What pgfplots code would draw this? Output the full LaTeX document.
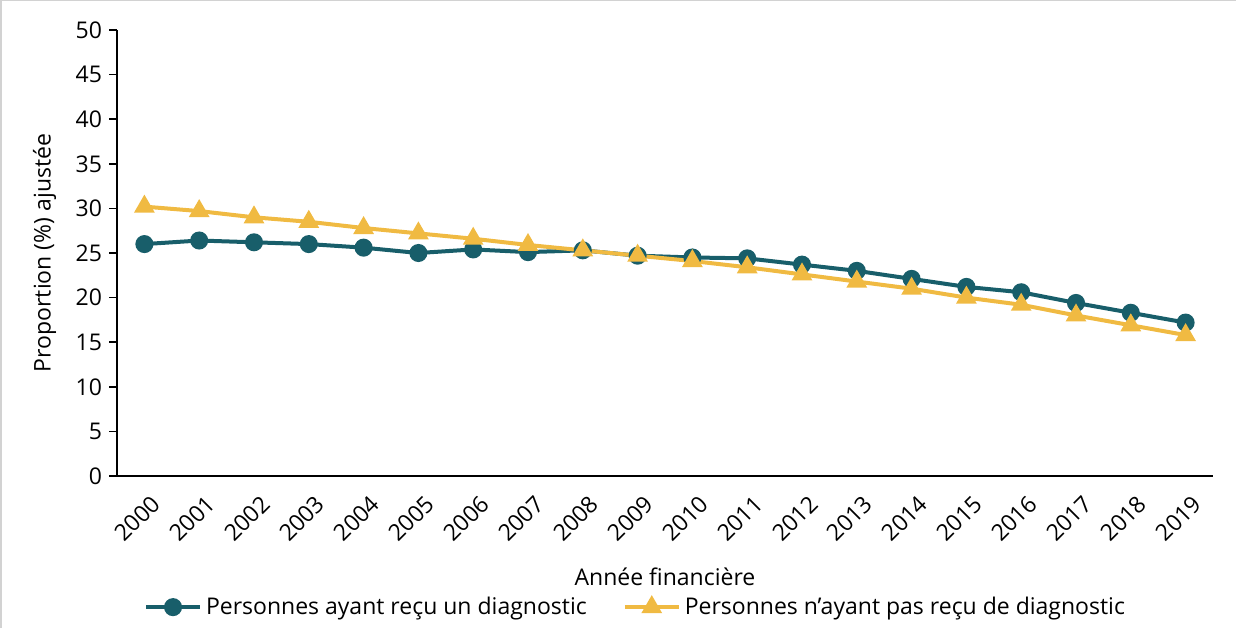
\documentclass[border=0pt]{standalone}
\usepackage{pgfplots}
\pgfplotsset{compat=1.18}
\usepackage{fontspec}
\setmainfont{Open Sans}
\definecolor{teal1}{RGB}{24,94,106}
\definecolor{gold1}{RGB}{240,186,66}
\begin{document}
\begin{tikzpicture}
\begin{axis}[
    scale only axis,
    width=548pt, height=223pt,
    xmin=1999.5, xmax=2019.5,
    ymin=0, ymax=50,
    ytick={0,5,...,50},
    xtick={2000,...,2019},
    font=\fontsize{11.5}{13}\selectfont,
    xticklabel style={rotate=45, anchor=north east, xshift=2pt, yshift=-2pt},
    x tick label style={/pgf/number format/.cd, set thousands separator={}},
    /pgf/number format/assume math mode=true,
    axis x line*=bottom, axis y line*=left,
    x axis line style={-}, y axis line style={-},
    major x tick style={draw=none},
    y tick style={black, thick},
    tick align=outside, major tick length=4pt,
    axis line style={black, thick},
    xlabel={Année financière},
    ylabel={Proportion (\%) ajustée},
    xlabel style={at={(axis description cs:0.5,-0.227)}, anchor=center},
    ylabel style={at={(axis description cs:-0.066,0.5)}, anchor=center},
    legend style={draw=none, at={(0.474,-0.294)}, anchor=center, legend columns=2,
        /tikz/every even column/.append style={column sep=16pt}},
    legend cell align=left,
    legend image code/.code={\draw[mark repeat=2,mark phase=2] plot coordinates {(0pt,0pt) (13.5pt,0pt) (27pt,0pt)};},
]
\addplot[color=teal1, line width=2pt, mark=*, mark size=3.5pt] coordinates {
(2000,26.0) (2001,26.4) (2002,26.2) (2003,26.0) (2004,25.6) (2005,25.0) (2006,25.4) (2007,25.1) (2008,25.3) (2009,24.7)
(2010,24.5) (2011,24.4) (2012,23.7) (2013,23.0) (2014,22.1) (2015,21.2) (2016,20.6) (2017,19.4) (2018,18.3) (2019,17.2)
};
\addlegendentry{Personnes ayant reçu un diagnostic}
\addplot[color=gold1, line width=2pt, mark=triangle*, mark size=4pt] coordinates {
(2000,30.2) (2001,29.7) (2002,29.0) (2003,28.5) (2004,27.8) (2005,27.2) (2006,26.6) (2007,25.9) (2008,25.3) (2009,24.7)
(2010,24.1) (2011,23.4) (2012,22.6) (2013,21.8) (2014,21.0) (2015,20.0) (2016,19.2) (2017,18.0) (2018,16.9) (2019,15.8)
};
\addlegendentry{Personnes n'ayant pas reçu de diagnostic}
\coordinate (sw) at (rel axis cs:0,0);
\coordinate (ne) at (rel axis cs:1,1);
\end{axis}
\pgfresetboundingbox
\path[use as bounding box] ([shift={(-58.5pt,-76pt)}]sw) rectangle ([shift={(11.5pt,15pt)}]ne);
\draw[gray!35, line width=0.6pt] ([shift={(-58pt,-76pt)}]sw) -- ([shift={(-58pt,14.7pt)}]sw |- ne) -- ([shift={(11.5pt,14.7pt)}]ne);
\end{tikzpicture}
\end{document}
